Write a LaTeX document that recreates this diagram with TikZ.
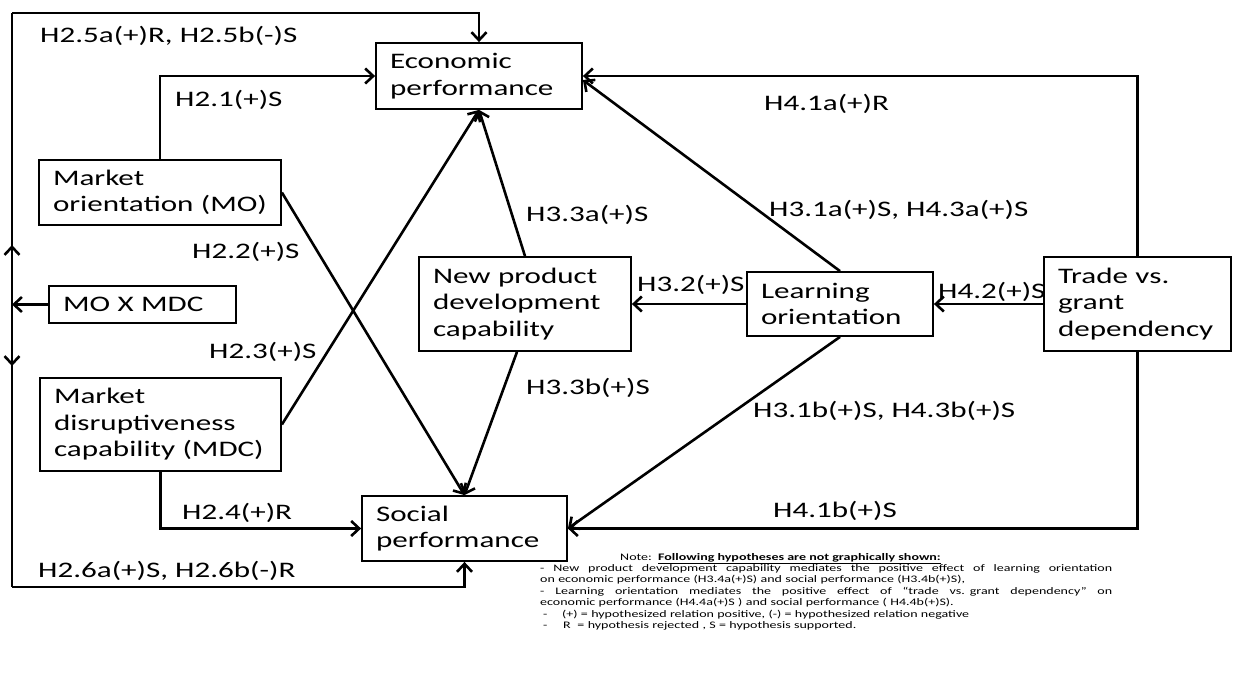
\documentclass[tikz,border=0pt]{standalone}
\usepackage{fontspec}
\setmainfont{Carlito}[FakeStretch=1.4]
\usetikzlibrary{arrows.meta}

\newcommand{\boxfont}{\fontsize{22.2}{26.5}\selectfont}
\newcommand{\notefont}{\fontsize{10}{11.4}\selectfont}
% a note line spread over the full note width
\newcommand{\fullline}[1]{\leavevmode\hbox to 572pt{\spaceskip=0.3em plus 1fil\relax #1}}

\tikzset{
  box/.style={draw, line width=1.8pt, inner xsep=14pt, inner ysep=0pt,
              align=left, font=\boxfont},
  conn/.style={line width=2.6pt},
  arr/.style={conn, -{Straight Barb[length=8pt,width=15pt]}},
  lab/.style={anchor=base west, inner sep=0pt, font=\boxfont},
}

\begin{document}
\begin{tikzpicture}[x=1pt, y=-1pt]
\useasboundingbox (0,0) rectangle (1242,673);

% constructs
\node[box, text width=178pt, minimum height=66pt] (econ)   at (479,76)     {Economic\\performance};
\node[box, text width=214pt, minimum height=65pt] (mo)     at (160,192.5)  {Market\\\mbox{orientation (MO)}};
\node[box, text width=159pt, minimum height=37pt] (mox)    at (142.5,304.5){MO X MDC};
\node[box, text width=213pt, minimum height=93pt] (mdc)    at (160.5,424.5){Market\\disruptiveness\\\mbox{capability (MDC)}};
\node[box, text width=177pt, minimum height=65pt] (social) at (464.5,528.5){Social\\performance};
\node[box, text width=184pt, minimum height=94pt] (npd)    at (525,304)    {New product\\development\\capability};
\node[box, text width=158pt, minimum height=64pt] (learn)  at (840,304)    {Learning\\orientation};
\node[box, text width=159pt, minimum height=94pt] (trade)  at (1137.5,304) {Trade vs.\\grant\\dependency};

% moderation loop on the left
\coordinate (j)  at (12,304.5);
\coordinate (tl) at (12,13);
\coordinate (bl) at (12,587);
\coordinate (up) at (12,245);
\coordinate (dn) at (12,366);
\draw[conn] (tl) -- (bl);
\draw[arr] (mox.west) -- (j);
\draw[arr] (j) -- (up);
\draw[arr] (j) -- (dn);
\draw[arr] (tl) -| (econ.north);
\draw[arr] (bl) -| (social.south);

% direct effects
\draw[arr] (mo.north) |- (econ.west);
\draw[arr] (mdc.south) |- (social.west);
\draw[arr] (mo.east) -- (social.north);
\draw[arr] (mdc.east) -- (econ.south);
\draw[arr] (npd.north) -- (econ.south);
\draw[arr] ([xshift=-8pt]npd.south) -- (social.north);
\draw[arr] (learn.west) -- (npd.east);
\draw[arr] (trade.west) -- (learn.east);
\draw[arr] (learn.north) -- ([yshift=-4pt]econ.east);
\draw[arr] (learn.south) -- (social.east);
\draw[arr] (trade.north) |- (econ.east);
\draw[arr] (trade.south) |- (social.east);

% hypothesis labels
\node[lab] (h25) at (40,42)   {H2.5a(+)R, H2.5b(-)S};
\node[lab] (h21) at (175,106) {H2.1(+)S};
\node[lab] (h22) at (192,258) {H2.2(+)S};
\node[lab] (h23) at (209,358) {H2.3(+)S};
\node[lab] (h24) at (182,519) {H2.4(+)R};
\node[lab] (h26) at (38,577)  {H2.6a(+)S, H2.6b(-)R};
\node[lab] (h33a) at (526,221) {H3.3a(+)S};
\node[lab] (h32) at (637,291) {H3.2(+)S};
\node[lab] (h33b) at (526,394) {H3.3b(+)S};
\node[lab] (h41a) at (764,110) {H4.1a(+)R};
\node[lab] (h31a) at (769,216) {H3.1a(+)S, H4.3a(+)S};
\node[lab] (h42) at (938,298) {H4.2(+)S};
\node[lab] (h31b) at (753,417) {H3.1b(+)S, H4.3b(+)S};
\node[lab] (h41b) at (773,517) {H4.1b(+)S};

% note
\node[anchor=base west, inner sep=0pt, font=\notefont] (notehead) at (620,560)
  {Note:\ \ \textbf{\underline{Following hypotheses are not graphically shown:}}};
\node[anchor=base west, inner sep=0pt, text width=572pt, align=left, font=\notefont] (note) at (540,571.4)
  {\fullline{- New product development capability mediates the positive effect of learning orientation}\\
   on economic performance (H3.4a(+)S) and social performance (H3.4b(+)S),\\
   \fullline{- Learning orientation mediates the positive effect of “trade vs. grant dependency” on}\\
   economic performance (H4.4a(+)S ) and social performance ( H4.4b(+)S).\\
   \hspace*{3pt}\makebox[19pt][l]{-}(+) = hypothesized relation positive, (-) = hypothesized relation negative\\
   \hspace*{3pt}\makebox[20pt][l]{-}R\ \ = hypothesis rejected , S = hypothesis supported.};
\end{tikzpicture}
\end{document}
